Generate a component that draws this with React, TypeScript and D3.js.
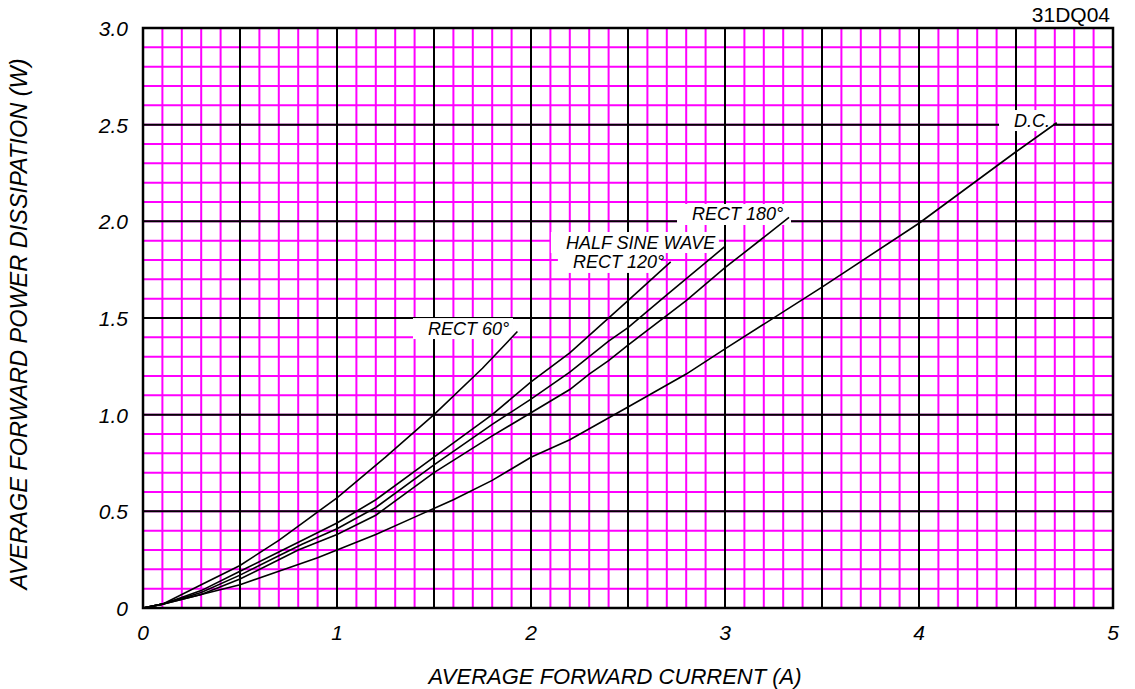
import React from 'react';
import * as d3 from 'd3';

// curve data: [current (A), power (W)]
const rect60: [number, number][] = [
  [0, 0], [0.1, 0.02], [0.3, 0.12], [0.5, 0.22], [0.7, 0.35], [0.85, 0.46],
  [1.0, 0.57], [1.25, 0.78], [1.5, 1.0], [1.75, 1.24], [1.93, 1.43],
];
const rect120: [number, number][] = [
  [0, 0], [0.1, 0.02], [0.3, 0.09], [0.5, 0.19], [0.7, 0.29], [1.0, 0.44],
  [1.2, 0.56], [1.5, 0.78], [1.8, 1.0], [2.0, 1.17], [2.2, 1.32], [2.5, 1.59], [2.72, 1.79],
];
const halfSine: [number, number][] = [
  [0, 0], [0.1, 0.02], [0.3, 0.08], [0.5, 0.17], [0.7, 0.27], [0.82, 0.33], [1.0, 0.41],
  [1.2, 0.52], [1.5, 0.74], [1.8, 0.95], [2.0, 1.08], [2.2, 1.22], [2.4, 1.38],
  [2.5, 1.45], [2.7, 1.62], [3.0, 1.87],
];
const rect180: [number, number][] = [
  [0, 0], [0.1, 0.02], [0.3, 0.07], [0.5, 0.15], [0.7, 0.25], [0.8, 0.3], [1.0, 0.38],
  [1.2, 0.48], [1.5, 0.7], [1.8, 0.89], [2.0, 1.01], [2.2, 1.13], [2.3, 1.21],
  [2.4, 1.28], [2.5, 1.36], [2.8, 1.59], [3.0, 1.76], [3.33, 2.02],
];
const dc: [number, number][] = [
  [0, 0], [0.1, 0.02], [0.3, 0.07], [0.5, 0.12], [0.7, 0.19], [0.9, 0.26], [1.0, 0.3],
  [1.2, 0.38], [1.4, 0.47], [1.6, 0.56], [1.8, 0.66], [2.0, 0.78], [2.2, 0.87],
  [2.5, 1.04], [2.8, 1.21], [3.0, 1.34], [3.5, 1.66], [4.0, 1.99], [4.5, 2.36], [4.71, 2.51],
];

const xTicks = [0, 1, 2, 3, 4, 5];
const yTicks = [0, 0.5, 1.0, 1.5, 2.0, 2.5, 3.0];
const yTickLabels = ['0', '0.5', '1.0', '1.5', '2.0', '2.5', '3.0'];

// curve labels: text start / middle height in data units, white box width in px
const curveLabels = [
  { text: 'RECT 60°', x: 1.469, y: 1.448, w: 100 },
  { text: 'HALF SINE WAVE', x: 2.18, y: 1.893, w: 168 },
  { text: 'RECT 120°', x: 2.216, y: 1.79, w: 103 },
  { text: 'RECT 180°', x: 2.83, y: 2.038, w: 114 },
  { text: 'D.C.', x: 4.49, y: 2.524, w: 54 },
];

const width = 1135;
const height = 689;
const margin = { top: 28, right: 22, bottom: 81, left: 143 };
const font = 'Liberation Sans, Arial, sans-serif';

export default function App() {
  const x = d3.scaleLinear().domain([0, 5]).range([margin.left, width - margin.right]);
  const y = d3.scaleLinear().domain([0, 3]).range([height - margin.bottom, margin.top]);

  const line = d3
    .line<[number, number]>()
    .x((d) => x(d[0]))
    .y((d) => y(d[1]));

  const minorX = d3.range(0, 51).map((i) => i / 10);
  const minorY = d3.range(0, 31).map((i) => i / 10);
  const majorX = d3.range(0, 11).map((i) => i / 2);
  const majorY = d3.range(0, 7).map((i) => i / 2);

  const curves = [rect60, rect120, halfSine, rect180, dc];

  return (
    <svg width={width} height={height} style={{ display: 'block', position: 'absolute', left: 0, top: 0 }}>
      <rect width={width} height={height} fill="#fff" />
      {minorX.map((v, i) => (
        <line key={'mx' + i} x1={x(v)} x2={x(v)} y1={y(0)} y2={y(3)} stroke="#ff00ff" strokeWidth={2} />
      ))}
      {minorY.map((v, i) => (
        <line key={'my' + i} x1={x(0)} x2={x(5)} y1={y(v)} y2={y(v)} stroke="#ff00ff" strokeWidth={2} />
      ))}
      {majorX.map((v, i) => (
        <line key={'Mx' + i} x1={x(v)} x2={x(v)} y1={y(0)} y2={y(3)} stroke="#000" strokeWidth={2} />
      ))}
      {majorY.map((v, i) => (
        <line key={'My' + i} x1={x(0)} x2={x(5)} y1={y(v)} y2={y(v)} stroke="#000" strokeWidth={2} />
      ))}
      <rect x={x(0)} y={y(3)} width={x(5) - x(0)} height={y(0) - y(3)} fill="none" stroke="#000" strokeWidth={2.5} />

      {curveLabels.map((l, i) => (
        <rect key={'lb' + i} x={x(l.x) - 15} y={y(l.y) - 10} width={l.w} height={21} fill="#fff" />
      ))}
      {curveLabels.map((l, i) => (
        <text
          key={'lt' + i}
          x={x(l.x)}
          y={y(l.y) + 6.5}
          fontFamily={font}
          fontStyle="italic"
          fontSize={18}
          fill="#000"
        >
          {l.text}
        </text>
      ))}

      {curves.map((c, i) => (
        <path key={'c' + i} d={line(c) || ''} fill="none" stroke="#000" strokeWidth={1.6} />
      ))}

      {xTicks.map((t) => (
        <text key={'xt' + t} x={x(t)} y={y(0) + 32} textAnchor="middle" fontFamily={font} fontStyle="italic" fontSize={21}>
          {t}
        </text>
      ))}
      {yTicks.map((t, i) => (
        <text key={'yt' + i} x={x(0) - 15} y={y(t) + 8} textAnchor="end" fontFamily={font} fontStyle="italic" fontSize={21}>
          {yTickLabels[i]}
        </text>
      ))}

      <text x={615} y={684} textAnchor="middle" fontFamily={font} fontStyle="italic" fontSize={22}>
        AVERAGE FORWARD CURRENT (A)
      </text>
      <text
        transform={`translate(27,324) rotate(-90)`}
        textAnchor="middle"
        fontFamily={font}
        fontStyle="italic"
        fontSize={23.5}
      >
        AVERAGE FORWARD POWER DISSIPATION (W)
      </text>
      <text x={x(5) - 3} y={22} textAnchor="end" fontFamily={font} fontSize={21}>
        31DQ04
      </text>
    </svg>
  );
}
